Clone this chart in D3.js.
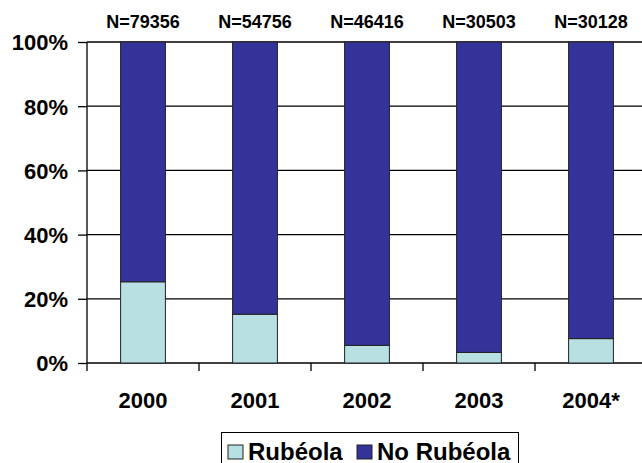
<!DOCTYPE html>
<html>
<head>
<meta charset="utf-8">
<script src="https://cdn.jsdelivr.net/npm/d3@7"></script>
<style>
  body { margin: 0; background: #fff; }
  text { font-family: "Liberation Sans", Arial, sans-serif; font-weight: bold; fill: #000; }
</style>
</head>
<body>
<div id="chart"></div>
<script>
// data (percent of cases)
const years = ['2000', '2001', '2002', '2003', '2004*'];
const totals = ['N=79356', 'N=54756', 'N=46416', 'N=30503', 'N=30128'];
const rubeola = [25.3, 15.2, 5.5, 3.3, 7.6];
const noRubeola = [74.7, 84.8, 94.5, 96.7, 92.4];
const yTicks = [0, 20, 40, 60, 80, 100];
const seriesNames = ['Rubéola', 'No Rubéola'];
const seriesColors = ['#B8E0E2', '#333399'];

const width = 642, height = 463;
const margin = {top: 42, left: 87};
const graphWidth = 560;
const graphHeight = 321;

const svg = d3.select('#chart')
    .append('svg')
    .attr('width', width)
    .attr('height', height);

const graph = svg.append('g')
    .attr('transform', `translate(${margin.left}, ${margin.top})`);

const x = d3.scaleBand()
    .domain(years)
    .range([0, graphWidth])
    .paddingInner(0.6)
    .paddingOuter(0.3);

const y = d3.scaleLinear()
    .domain([0, 100])
    .range([graphHeight, 0]);

// gridlines
graph.selectAll('line.grid')
    .data(yTicks)
    .enter()
    .append('line')
    .attr('class', 'grid')
    .attr('x1', 0)
    .attr('x2', graphWidth)
    .attr('y1', d => y(d))
    .attr('y2', d => y(d))
    .attr('stroke', '#000')
    .attr('stroke-width', 1.3);

// stacked bars
const rows = years.map((yr, i) => ({year: yr, 'Rubéola': rubeola[i], 'No Rubéola': noRubeola[i]}));
const stack = d3.stack().keys(seriesNames)(rows);

graph.selectAll('g.layer')
    .data(stack)
    .enter()
    .append('g')
    .attr('class', 'layer')
    .attr('fill', (d, i) => seriesColors[i])
    .selectAll('rect')
    .data(d => d)
    .enter()
    .append('rect')
    .attr('x', d => x(d.data.year))
    .attr('width', x.bandwidth())
    .attr('y', d => y(d[1]))
    .attr('height', d => y(d[0]) - y(d[1]))
    .attr('stroke', '#222')
    .attr('stroke-width', 1);

// y axis
const yAxis = d3.axisLeft(y)
    .tickValues(yTicks)
    .tickSize(9)
    .tickPadding(10)
    .tickFormat(d => d + '%');

const yAxisGroup = graph.append('g').call(yAxis);
yAxisGroup.select('.domain').attr('stroke', '#000').attr('stroke-width', 1.3)
    .attr('d', `M0,0V${graphHeight + 8}`);
yAxisGroup.selectAll('.tick line').attr('stroke', '#000').attr('stroke-width', 1.3);
yAxisGroup.selectAll('text')
    .attr('dy', '0.36em')
    .style('font-size', '22px')
    .style('font-family', '"Liberation Sans", Arial, sans-serif')
    .style('font-weight', 'bold');

// x axis: ticks at category boundaries
const step = x.step();
const boundaries = years.map((yr, i) => x(yr) - step * 0.3).slice(1);
graph.selectAll('line.xtick')
    .data(boundaries)
    .enter()
    .append('line')
    .attr('x1', d => d)
    .attr('x2', d => d)
    .attr('y1', graphHeight)
    .attr('y2', graphHeight + 8)
    .attr('stroke', '#000')
    .attr('stroke-width', 1.3);

graph.selectAll('text.cat')
    .data(years)
    .enter()
    .append('text')
    .attr('class', 'cat')
    .attr('x', d => x(d) + x.bandwidth() / 2)
    .attr('y', graphHeight + 45)
    .attr('text-anchor', 'middle')
    .style('font-size', '22px')
    .text(d => d);

// N labels above bars
graph.selectAll('text.ntot')
    .data(totals)
    .enter()
    .append('text')
    .attr('class', 'ntot')
    .attr('x', (d, i) => x(years[i]) + x.bandwidth() / 2)
    .attr('y', -14)
    .attr('text-anchor', 'middle')
    .style('font-size', '18px')
    .text(d => d);

// legend
const legend = svg.append('g');
legend.append('rect')
    .attr('x', 221.5)
    .attr('y', 432.5)
    .attr('width', 297)
    .attr('height', 40)
    .attr('fill', '#fff')
    .attr('stroke', '#000')
    .attr('stroke-width', 1);

const legendX = [228, 357];
const legendItems = legend.selectAll('g.item')
    .data(seriesNames)
    .enter()
    .append('g')
    .attr('class', 'item')
    .attr('transform', (d, i) => `translate(${legendX[i]}, 445)`);

legendItems.append('rect')
    .attr('width', 15)
    .attr('height', 14)
    .attr('fill', (d, i) => seriesColors[i])
    .attr('stroke', '#222');

legendItems.append('text')
    .attr('x', 20)
    .attr('y', 14.5)
    .style('font-size', '24px')
    .text(d => d);
</script>
</body>
</html>
